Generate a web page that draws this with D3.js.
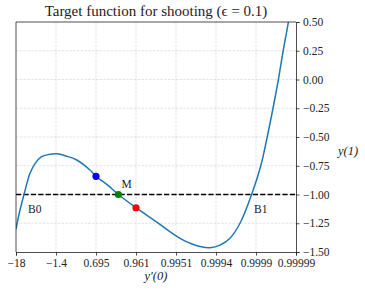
<!DOCTYPE html>
<html>
<head>
<meta charset="utf-8">
<style>
  body { margin: 0; background: #fff; }
  text { font-family: "Liberation Serif", "DejaVu Serif", serif; }
</style>
</head>
<body>
<svg id="chart" width="365" height="290"></svg>
<script src="https://d3js.org/d3.v7.min.js"></script>
<script>

// tick labels on the (evenly spaced, transformed) x axis
var xTickLabels = ["\u221218", "\u22121.4", "0.695", "0.961", "0.9951", "0.9994", "0.9999", "0.99999"];
var yTicks = [0.5, 0.25, 0, -0.25, -0.5, -0.75, -1.0, -1.25, -1.5];

// curve: position along transformed axis (tick index) and y(1)
var curveU = [0, 0.08, 0.2, 0.35, 0.48, 0.64, 0.82, 1.02, 1.25, 1.52, 1.85, 2.0, 2.3, 2.56, 3.0, 3.5, 4.1, 4.4, 4.6, 4.85, 5.1, 5.35, 5.6, 5.89, 6.12, 6.28, 6.425, 6.56, 6.68, 6.81, 6.92];
var curveY = [-1.30, -1.165, -1.0, -0.816, -0.729, -0.671, -0.652, -0.646, -0.665, -0.70, -0.787, -0.842, -0.92, -1.0, -1.115, -1.236, -1.381, -1.43, -1.452, -1.463, -1.44, -1.38, -1.25, -1.0, -0.75, -0.5, -0.25, 0.0, 0.25, 0.5, 0.75];

var pointNames = ["blue", "M", "red"];
var pointU = [2.0, 2.56, 3.0];
var pointY = [-0.842, -1.0, -1.115];
var pointColors = ["#0000ff", "#008000", "#ff0000"];

var labelText = ["B0", "B1", "M"];
var labelU = [0.3, 5.95, 2.64];
var labelY = [-1.157, -1.157, -0.946];

var target = -1.0;

var svg = d3.select("#chart");
var pl = 16, pr = 296, pt = 22, pb = 252;

var x = d3.scaleLinear().domain([0, 7]).range([pl, pr]);
var y = d3.scaleLinear().domain([-1.5, 0.5]).range([pb, pt]);

svg.append("defs").append("clipPath").attr("id", "clip")
  .append("rect")
    .attr("x", pl).attr("y", pt)
    .attr("width", pr - pl).attr("height", pb - pt);

// grid
var grid = svg.append("g")
    .attr("stroke", "#b0b0b0")
    .attr("stroke-opacity", 0.5)
    .attr("stroke-width", 0.7)
    .attr("stroke-dasharray", "2.6,1.2");

grid.selectAll("line.gx")
  .data(d3.range(1, 7))
  .enter().append("line")
    .attr("x1", function(d) { return x(d); })
    .attr("x2", function(d) { return x(d); })
    .attr("y1", pt).attr("y2", pb);

grid.selectAll("line.gy")
  .data(yTicks.slice(1, -1))
  .enter().append("line")
    .attr("y1", function(d) { return y(d); })
    .attr("y2", function(d) { return y(d); })
    .attr("x1", pl).attr("x2", pr);

// target line
svg.append("line")
    .attr("x1", pl).attr("x2", pr)
    .attr("y1", y(target)).attr("y2", y(target))
    .attr("stroke", "#000")
    .attr("stroke-width", 1.4)
    .attr("stroke-dasharray", "5.2,2.2");

var line = d3.line()
    .x(function(d, i) { return x(curveU[i]); })
    .y(function(d) { return y(d); })
    .curve(d3.curveCatmullRom.alpha(0.5));

svg.append("path")
    .datum(curveY)
    .attr("clip-path", "url(#clip)")
    .attr("fill", "none")
    .attr("stroke", "#1f77b4")
    .attr("stroke-width", 1.5)
    .attr("d", line);

svg.selectAll("circle.pt")
  .data(pointNames)
  .enter().append("circle")
    .attr("cx", function(d, i) { return x(pointU[i]); })
    .attr("cy", function(d, i) { return y(pointY[i]); })
    .attr("r", 3.6)
    .attr("fill", function(d, i) { return pointColors[i]; });

svg.selectAll("text.lbl")
  .data(labelText)
  .enter().append("text")
    .attr("x", function(d, i) { return x(labelU[i]); })
    .attr("y", function(d, i) { return y(labelY[i]); })
    .attr("font-size", 11.5)
    .attr("fill", "#222")
    .text(function(d) { return d; });

// axes
var xAxis = d3.axisBottom(x)
    .tickValues(d3.range(0, 8))
    .tickFormat(function(d) { return xTickLabels[d]; })
    .tickSize(3.5)
    .tickPadding(3.5);

var gx = svg.append("g")
    .attr("transform", "translate(0," + pb + ")")
    .call(xAxis);

var yAxis = d3.axisRight(y)
    .tickValues(yTicks)
    .tickFormat(function(d) { return d3.format(".2f")(d).replace("-", "\u2212"); })
    .tickSize(3.5)
    .tickPadding(3.5);

var gy = svg.append("g")
    .attr("transform", "translate(" + pr + ",0)")
    .call(yAxis);

[gx, gy].forEach(function(g) {
  g.selectAll("text").attr("font-family", "Liberation Serif").attr("font-size", 11.5).attr("fill", "#222");
  g.selectAll("line").attr("stroke", "#222").attr("stroke-width", 0.8);
  g.select(".domain").attr("stroke", "#222").attr("stroke-width", 0.8);
});

// left + top spines
svg.append("path")
    .attr("d", "M" + pl + "," + pb + "V" + pt + "H" + pr)
    .attr("fill", "none")
    .attr("stroke", "#222")
    .attr("stroke-width", 0.8);

svg.append("text")
    .attr("x", (pl + pr) / 2)
    .attr("y", 16)
    .attr("text-anchor", "middle")
    .attr("font-size", 15)
    .attr("fill", "#222")
    .text("Target function for shooting (\u03f5 = 0.1)");

svg.append("text")
    .attr("x", 348)
    .attr("y", 155)
    .attr("text-anchor", "middle")
    .attr("font-size", 12.5)
    .attr("font-style", "italic")
    .attr("fill", "#222")
    .text("y(1)");

svg.append("text")
    .attr("x", (pl + pr) / 2)
    .attr("y", 280)
    .attr("text-anchor", "middle")
    .attr("font-size", 12.5)
    .attr("font-style", "italic")
    .attr("fill", "#222")
    .text("y\u2032(0)");

</script>
</body>
</html>
